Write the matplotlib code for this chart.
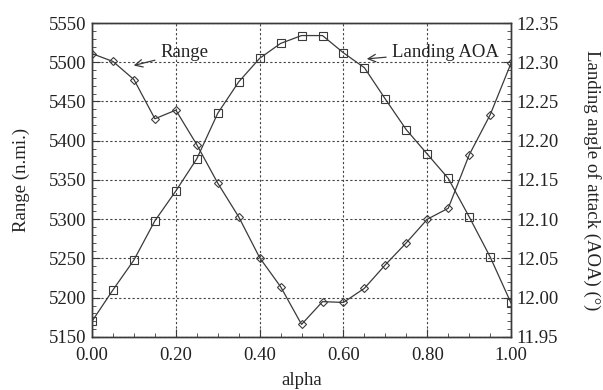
import matplotlib.pyplot as plt
from matplotlib.ticker import MultipleLocator

plt.rcParams['font.family'] = ['Liberation Serif', 'DejaVu Serif']

alpha = [0.00, 0.05, 0.10, 0.15, 0.20, 0.25, 0.30, 0.35, 0.40, 0.45, 0.50,
         0.55, 0.60, 0.65, 0.70, 0.75, 0.80, 0.85, 0.90, 0.95, 1.00]
range_nmi = [5511, 5501, 5478, 5428, 5439, 5395, 5346, 5303, 5251, 5214, 5166,
             5195, 5194, 5212, 5242, 5270, 5300, 5314, 5382, 5433, 5499]
landing_aoa = [11.970, 12.010, 12.048, 12.098, 12.136, 12.177, 12.235, 12.275, 12.305, 12.324, 12.334,
               12.334, 12.312, 12.293, 12.253, 12.214, 12.183, 12.152, 12.103, 12.052, 11.993]

fig = plt.figure(figsize=(6.03, 3.90), dpi=100)
ax = fig.add_axes([0.1526, 0.136, 0.695, 0.805])
ax2 = ax.twinx()

lc = '#3a3a3a'
ax.plot(alpha, range_nmi, color=lc, lw=0.9, marker='D', ms=4.5, mfc='none', mec=lc, mew=0.8)
ax2.plot(alpha, landing_aoa, color=lc, lw=0.9, marker='s', ms=5.5, mfc='none', mec=lc, mew=0.8)

ax.set_xlim(0, 1)
ax.set_ylim(5150, 5550)
ax2.set_ylim(11.95, 12.35)

ax.xaxis.set_major_locator(MultipleLocator(0.2))
ax.xaxis.set_minor_locator(MultipleLocator(0.05))
ax.yaxis.set_major_locator(MultipleLocator(50))
ax.yaxis.set_minor_locator(MultipleLocator(10))
ax2.yaxis.set_major_locator(MultipleLocator(0.05))
ax2.yaxis.set_minor_locator(MultipleLocator(0.01))

ax.xaxis.set_major_formatter(plt.FuncFormatter(lambda v, p: f'{v:.2f}'))
ax2.yaxis.set_major_formatter(plt.FuncFormatter(lambda v, p: f'{v:.2f}'))

for a in (ax, ax2):
    a.tick_params(which='major', direction='in', length=6, width=0.8, labelsize=13.5, colors=lc, labelcolor='#222222')
    a.tick_params(which='minor', direction='in', length=3, width=0.6, colors=lc)
    for s in a.spines.values():
        s.set_color(lc)
        s.set_linewidth(1.0)
ax.tick_params(axis='x', pad=7)
ax.tick_params(axis='y', pad=4)
ax2.tick_params(axis='y', pad=4)

ax.grid(True, which='major', linestyle=(0, (2, 2)), color='#444444', lw=0.8)

ax.set_xlabel('alpha', fontsize=13.5, color='#222222', labelpad=6)
ax.set_ylabel('Range (n.mi.)', fontsize=13.5, color='#222222', labelpad=14)
ax2.set_ylabel('Landing angle of attack (AOA) (°)', fontsize=13.5, color='#222222',
               rotation=-90, labelpad=30)

ax.annotate('Range', xy=(0.093, 5495), xytext=(0.163, 5512), fontsize=13.5, color='#222222',
            va='center', arrowprops=dict(arrowstyle='->', color=lc, lw=0.9))
ax2.annotate('Landing AOA', xy=(0.649, 12.304), xytext=(0.715, 12.313), fontsize=13.5, color='#222222',
             va='center', arrowprops=dict(arrowstyle='->', color=lc, lw=0.9))

fig.savefig('out.png', dpi=100)
